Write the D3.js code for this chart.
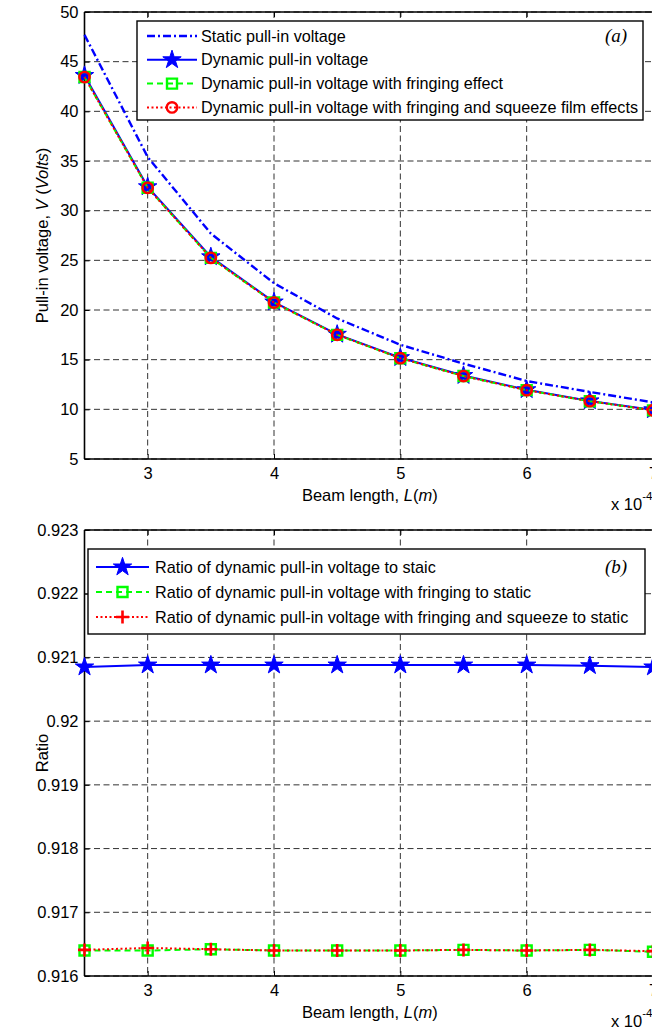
<!DOCTYPE html>
<html>
<head>
<meta charset="utf-8">
<script src="https://cdn.jsdelivr.net/npm/d3@7"></script>
<style>
  html, body { margin: 0; padding: 0; background: #fff; }
  svg { display: block; font-family: "Liberation Sans", Arial, sans-serif; }
</style>
</head>
<body>
<svg id="chart" width="652" height="1030"></svg>
<script>
// Beam length (x 10^-4 m)
const beamLength = [2.5, 3, 3.5, 4, 4.5, 5, 5.5, 6, 6.5, 7];

// Panel (a): pull-in voltages (V)
const staticVoltage   = [47.7, 35.4, 27.7, 22.7, 19.15, 16.5, 14.6, 12.85, 11.75, 10.7];
const dynamicVoltage  = [43.6, 32.4, 25.35, 20.8, 17.55, 15.2, 13.4, 11.97, 10.85, 9.95];
const fringingVoltage = [43.45, 32.3, 25.25, 20.75, 17.5, 15.15, 13.35, 11.93, 10.82, 9.9];
const squeezeVoltage  = [43.45, 32.3, 25.25, 20.75, 17.5, 15.15, 13.35, 11.93, 10.82, 9.9];

// Panel (b): ratios to the static pull-in voltage
const ratioDynamic  = [0.92085, 0.92088, 0.92088, 0.92088, 0.92088, 0.92088, 0.92088, 0.92088, 0.92087, 0.92085];
const ratioFringing = [0.91640, 0.91640, 0.91642, 0.91640, 0.91640, 0.91640, 0.91641, 0.91640, 0.91641, 0.91638];
const ratioSqueeze  = [0.91641, 0.91644, 0.91642, 0.91640, 0.91640, 0.91640, 0.91641, 0.91640, 0.91641, 0.91639];

// Tick values
const xTicks = [3, 4, 5, 6, 7];
const voltageTicks = [5, 10, 15, 20, 25, 30, 35, 40, 45, 50];
const ratioTicks = [0.916, 0.917, 0.918, 0.919, 0.920, 0.921, 0.922, 0.923];

// Legend texts
const legendA = [
  "Static pull-in voltage",
  "Dynamic pull-in voltage",
  "Dynamic pull-in voltage with fringing effect",
  "Dynamic pull-in voltage with fringing and squeeze film effects"
];
const legendB = [
  "Ratio of dynamic pull-in voltage to staic",
  "Ratio of dynamic pull-in voltage with fringing to static",
  "Ratio of dynamic pull-in voltage with fringing and squeeze to static"
];

const svg = d3.select("#chart");
const BLUE = "#0000ff", GREEN = "#00ff00", RED = "#ff0000";
const FS = 16.5;      // axis text size
const LEG_FS = 16.2;  // legend text size

function markerPath(kind) {
  if (kind === "star") return d3.symbol(d3.symbolStar).size(105)();
  if (kind === "plus") return "M-6.5,0H6.5M0,-6.5V6.5";
  if (kind === "square") return "M-5,-5H5V5H-5Z";
  if (kind === "circle") return d3.symbol(d3.symbolCircle).size(85)();
  return null;
}

function drawMarker(g, kind, color, x, y) {
  const p = g.append("path").attr("d", markerPath(kind))
    .attr("transform", `translate(${x},${y})`);
  if (kind === "star") p.attr("fill", color).attr("stroke", color).attr("stroke-width", 1);
  else p.attr("fill", "none").attr("stroke", color).attr("stroke-width", kind === "plus" ? 2.6 : 2.4);
}

function drawPanel(opt) {
  const { top, bottom, left, right, yDomain, yTicks, yFmt, series, legend, tag, ylabelParts } = opt;
  const x = d3.scaleLinear().domain([2.5, 7]).range([left, right]);
  const y = d3.scaleLinear().domain(yDomain).range([bottom, top]);
  const g = svg.append("g");

  // grid
  const grid = g.append("g").attr("stroke", "#333").attr("stroke-width", 1)
    .attr("stroke-dasharray", "6,3.5");
  xTicks.forEach(t => grid.append("line")
    .attr("x1", x(t)).attr("x2", x(t)).attr("y1", top).attr("y2", bottom));
  yTicks.forEach(t => grid.append("line")
    .attr("x1", left).attr("x2", right).attr("y1", y(t)).attr("y2", y(t)));

  // axes with inward ticks
  const axB = g.append("g").attr("transform", `translate(0,${bottom})`)
    .call(d3.axisBottom(x).tickValues(xTicks).tickSize(-5).tickPadding(8).tickFormat(d3.format("d")));
  const axT = g.append("g").attr("transform", `translate(0,${top})`)
    .call(d3.axisTop(x).tickValues(xTicks).tickSize(-5).tickFormat(""));
  const axL = g.append("g").attr("transform", `translate(${left},0)`)
    .call(d3.axisLeft(y).tickValues(yTicks).tickSize(-5).tickPadding(6).tickFormat(yFmt));
  [axB, axT, axL].forEach(a => {
    a.selectAll(".domain").attr("stroke", "#000").attr("stroke-width", 1.6);
    a.selectAll(".tick line").attr("stroke", "#000").attr("stroke-width", 1);
    a.selectAll("text").attr("font-size", FS).attr("fill", "#000")
      .attr("font-family", "Liberation Sans, Arial, sans-serif");
  });
  axB.select(".domain").attr("d", `M${left},0H${right}`);
  axT.select(".domain").attr("d", `M${left},0H${right}`);
  axL.select(".domain").attr("d", `M0,${top}V${bottom}`);

  // series
  series.forEach(s => {
    const line = d3.line().x((d, i) => x(beamLength[i])).y(d => y(d));
    g.append("path").datum(s.values).attr("d", line)
      .attr("fill", "none").attr("stroke", s.color).attr("stroke-width", s.width || 2)
      .attr("stroke-dasharray", s.dash || null);
    if (s.marker) s.values.forEach((v, i) => drawMarker(g, s.marker, s.color, x(beamLength[i]), y(v)));
  });

  // x label and exponent
  const xl = g.append("text").attr("x", (left + right) / 2 + 1).attr("y", bottom + 42)
    .attr("text-anchor", "middle").attr("font-size", FS);
  xl.append("tspan").text("Beam length, ");
  xl.append("tspan").attr("font-style", "italic").text("L");
  xl.append("tspan").text("(");
  xl.append("tspan").attr("font-style", "italic").text("m");
  xl.append("tspan").text(")");
  const ex = g.append("text").attr("x", 611).attr("y", bottom + 51).attr("font-size", FS);
  ex.append("tspan").text("x 10");
  ex.append("tspan").attr("dy", -10).attr("font-size", 11.5).text("-4");

  // y label
  const yl = g.append("text")
    .attr("transform", `translate(48,${(top + bottom) / 2}) rotate(-90)`)
    .attr("text-anchor", "middle").attr("font-size", FS);
  ylabelParts.forEach(p => yl.append("tspan").attr("font-style", p.italic ? "italic" : null).text(p.t));

  // legend
  const lg = g.append("g");
  lg.append("rect").attr("x", legend.x).attr("y", legend.y)
    .attr("width", legend.w).attr("height", legend.h)
    .attr("fill", "#fff").attr("stroke", "#000").attr("stroke-width", 1.4);
  series.forEach((s, i) => {
    const ly = legend.y + legend.first + i * legend.step;
    lg.append("line").attr("x1", legend.lx1).attr("x2", legend.lx2).attr("y1", ly).attr("y2", ly)
      .attr("stroke", s.color).attr("stroke-width", s.width || 2).attr("stroke-dasharray", s.dash || null);
    if (s.marker) drawMarker(lg, s.marker, s.color, (legend.lx1 + legend.lx2) / 2, ly);
    lg.append("text").attr("x", legend.tx).attr("y", ly + 5.5).attr("font-size", LEG_FS).text(legend.labels[i]);
  });
  lg.append("text").attr("x", legend.tagX).attr("y", legend.y + legend.first + 6)
    .attr("font-family", "Liberation Serif, Times New Roman, serif").attr("font-style", "italic")
    .attr("font-size", 19).attr("text-anchor", "middle").text(tag);
}

drawPanel({
  top: 12, bottom: 459, left: 84.5, right: 653,
  yDomain: [5, 50], yTicks: voltageTicks, yFmt: d3.format("d"),
  series: [
    { values: staticVoltage, color: BLUE, width: 2.4, dash: "8,3,2,3" },
    { values: dynamicVoltage, color: BLUE, width: 2, marker: "star" },
    { values: fringingVoltage, color: GREEN, width: 2, dash: "6,4", marker: "square" },
    { values: squeezeVoltage, color: RED, width: 2, dash: "2,2.5", marker: "circle" }
  ],
  legend: { x: 137, y: 21, w: 506, h: 99, first: 15, step: 23.8, lx1: 147, lx2: 197, tx: 201,
            tagX: 616, labels: legendA },
  tag: "(a)",
  ylabelParts: [{ t: "Pull-in voltage, " }, { t: "V", italic: true }, { t: " (" }, { t: "Volts", italic: true }, { t: ")" }]
});

drawPanel({
  top: 530, bottom: 976, left: 84.5, right: 653,
  yDomain: [0.916, 0.923], yTicks: ratioTicks, yFmt: d => d3.format(".3~f")(d),
  series: [
    { values: ratioDynamic, color: BLUE, width: 2, marker: "star" },
    { values: ratioFringing, color: GREEN, width: 2, dash: "6,4", marker: "square" },
    { values: ratioSqueeze, color: RED, width: 2, dash: "2,2.5", marker: "plus" }
  ],
  legend: { x: 88, y: 549, w: 557, h: 85, first: 18, step: 25, lx1: 96, lx2: 149, tx: 155,
            tagX: 616, labels: legendB },
  tag: "(b)",
  ylabelParts: [{ t: "Ratio" }]
});
</script>
</body>
</html>
